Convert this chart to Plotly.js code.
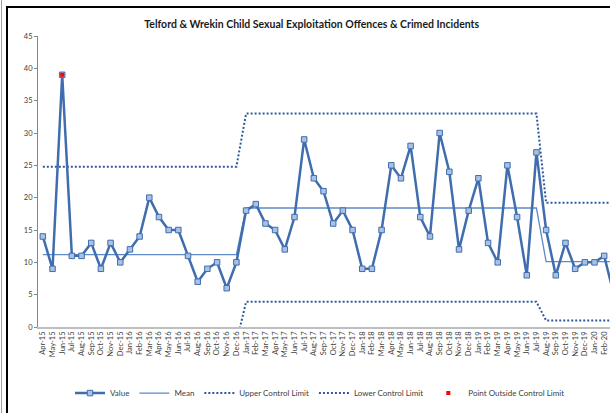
<!DOCTYPE html>
<html>
<head>
<meta charset="utf-8">
<script src="https://cdn.plot.ly/plotly-3.0.1.min.js"></script>
<style>html,body{margin:0;padding:0;background:#fff;}#chart{width:610px;height:413px;}</style>
</head>
<body>
<div id="chart"></div>
<script>
const months = ["Apr-15","May-15","Jun-15","Jul-15","Aug-15","Sep-15","Oct-15","Nov-15","Dec-15",
"Jan-16","Feb-16","Mar-16","Apr-16","May-16","Jun-16","Jul-16","Aug-16","Sep-16","Oct-16","Nov-16","Dec-16",
"Jan-17","Feb-17","Mar-17","Apr-17","May-17","Jun-17","Jul-17","Aug-17","Sep-17","Oct-17","Nov-17","Dec-17",
"Jan-18","Feb-18","Mar-18","Apr-18","May-18","Jun-18","Jul-18","Aug-18","Sep-18","Oct-18","Nov-18","Dec-18",
"Jan-19","Feb-19","Mar-19","Apr-19","May-19","Jun-19","Jul-19","Aug-19","Sep-19","Oct-19","Nov-19","Dec-19",
"Jan-20","Feb-20","Mar-20"];

const values = [14,9,39,11,11,13,9,13,10,
12,14,20,17,15,15,11,7,9,10,6,10,
18,19,16,15,12,17,29,23,21,16,18,15,
9,9,15,25,23,28,17,14,30,24,12,18,
23,13,10,25,17,8,27,15,8,13,9,10,
10,11,5];

const meanValues = [11.2,11.2,11.2,11.2,11.2,11.2,11.2,11.2,11.2,
11.2,11.2,11.2,11.2,11.2,11.2,11.2,11.2,11.2,11.2,11.2,11.2,
18.4,18.4,18.4,18.4,18.4,18.4,18.4,18.4,18.4,18.4,18.4,18.4,
18.4,18.4,18.4,18.4,18.4,18.4,18.4,18.4,18.4,18.4,18.4,18.4,
18.4,18.4,18.4,18.4,18.4,18.4,18.4,10.1,10.1,10.1,10.1,10.1,
10.1,10.1,10.1];

const upperLimit = [24.8,24.8,24.8,24.8,24.8,24.8,24.8,24.8,24.8,
24.8,24.8,24.8,24.8,24.8,24.8,24.8,24.8,24.8,24.8,24.8,24.8,
33,33,33,33,33,33,33,33,33,33,33,33,
33,33,33,33,33,33,33,33,33,33,33,33,
33,33,33,33,33,33,33,19.2,19.2,19.2,19.2,19.2,
19.2,19.2,19.2];

const lowerLimit = [-2.4,-2.4,-2.4,-2.4,-2.4,-2.4,-2.4,-2.4,-2.4,
-2.4,-2.4,-2.4,-2.4,-2.4,-2.4,-2.4,-2.4,-2.4,-2.4,-2.4,-2.4,
3.9,3.9,3.9,3.9,3.9,3.9,3.9,3.9,3.9,3.9,3.9,3.9,
3.9,3.9,3.9,3.9,3.9,3.9,3.9,3.9,3.9,3.9,3.9,3.9,
3.9,3.9,3.9,3.9,3.9,3.9,3.9,1.0,1.0,1.0,1.0,1.0,
1.0,1.0,1.0];

const outsideValues = [null,null,39,null,null,null,null,null,null,
null,null,null,null,null,null,null,null,null,null,null,null,
null,null,null,null,null,null,null,null,null,null,null,null,
null,null,null,null,null,null,null,null,null,null,null,null,
null,null,null,null,null,null,null,null,null,null,null,null,
null,null,null];

const yTicks = [0,5,10,15,20,25,30,35,40,45];

const FONT = "Lato, 'Liberation Sans', sans-serif";
const limitColor = "#2E5A9C";

const traces = [
  {x: months, y: upperLimit, name: "Upper Control Limit", mode: "lines", legendrank: 3,
   line: {color: limitColor, width: 2, dash: "2px,2px"}},
  {x: months, y: lowerLimit, name: "Lower Control Limit", mode: "lines", legendrank: 4,
   line: {color: limitColor, width: 2, dash: "2px,2px"}},
  {x: months, y: meanValues, name: "Mean", mode: "lines", legendrank: 2,
   line: {color: "#5B8BC9", width: 1.3}},
  {x: months, y: values, name: "Value", mode: "lines+markers", legendrank: 1,
   line: {color: "#3F6DAE", width: 2.5},
   marker: {symbol: "square", size: 5.5, color: "#A9C1E3", line: {color: "#3F6DAE", width: 1}}},
  {x: months, y: outsideValues, name: "Point Outside Control Limit", mode: "markers", legendrank: 5,
   marker: {symbol: "square", size: 4, color: "#FF0000"}}
];

const layout = {
  width: 610, height: 413,
  margin: {l: 38, r: 0, t: 36, b: 86},
  paper_bgcolor: "#ffffff", plot_bgcolor: "#ffffff",
  font: {family: FONT, size: 8, color: "#404040"},
  showlegend: true,
  title: {text: "<b>Telford & Wrekin Child Sexual Exploitation Offences & Crimed Incidents</b>",
          x: 0.511, xref: "container", xanchor: "center", y: 0.942, yanchor: "middle",
          font: {family: FONT, size: 10.5, color: "#1a1a1a"}},
  xaxis: {type: "category", range: [-0.5, 58.6], showgrid: false, zeroline: false,
          showline: true, linecolor: "#BFBFBF", linewidth: 1.5,
          ticks: "", tickangle: -90, tickfont: {family: FONT, size: 7.5, color: "#404040"},
          fixedrange: true},
  yaxis: {range: [0, 45], tickvals: yTicks, showgrid: false, zeroline: false,
          showline: true, linecolor: "#868686", linewidth: 1,
          ticks: "outside", ticklen: 3, tickcolor: "#868686",
          tickfont: {family: FONT, size: 7.5, color: "#404040"}, fixedrange: true},
  legend: {orientation: "h", x: 0.493, xanchor: "center", y: -0.227, yanchor: "middle",
           font: {family: FONT, size: 8, color: "#404040"}, bgcolor: "rgba(0,0,0,0)",
           traceorder: "normal"},
  shapes: [
    {type: "rect", xref: "paper", yref: "paper", x0: -0.0542, x1: 1.2, y0: -0.5, y1: 1.0997,
     line: {color: "#000000", width: 2}, fillcolor: "rgba(0,0,0,0)", layer: "below"},
    {type: "line", xref: "paper", yref: "paper", x0: -0.0638, x1: -0.0638, y0: -0.5, y1: 1.2,
     line: {color: "#A0A0A0", width: 1}}
  ]
};

Plotly.newPlot("chart", traces, layout, {displayModeBar: false, staticPlot: true});
</script>
</body>
</html>
